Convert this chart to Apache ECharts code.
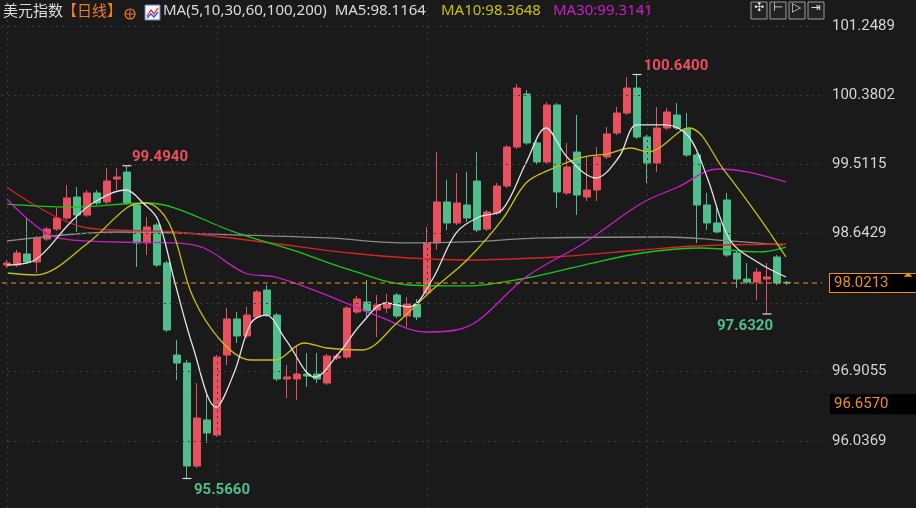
<!DOCTYPE html>
<html><head><meta charset="utf-8">
<script src="https://cdn.jsdelivr.net/npm/echarts@6/dist/echarts.min.js"></script>
<style>html,body{margin:0;padding:0;background:#1a1a1a}#c{width:916px;height:508px}</style>
</head><body><div id="c"></div>
<script>
// [open, close, low, high]
const candles = [
[98.247,98.272,98.210,98.310],[98.247,98.398,98.222,98.436],[98.386,98.285,98.260,98.850],[98.285,98.586,98.147,98.611],
[98.574,98.699,98.549,98.724],[98.699,98.838,98.674,98.963],[98.838,99.089,98.812,99.252],[99.101,98.875,98.662,99.227],
[98.875,99.152,98.850,99.189],[99.152,99.026,99.001,99.189],[99.039,99.302,99.013,99.466],[99.327,99.352,99.189,99.466],
[99.415,99.026,99.001,99.494],[99.001,98.524,98.222,99.026],[98.524,98.724,98.373,98.850],[98.750,98.247,98.222,98.775],
[98.272,97.431,97.406,98.297],[97.117,97.016,96.803,97.305],[97.016,95.723,95.566,97.054],[95.723,96.326,95.698,96.765],
[96.301,96.138,96.012,96.615],[96.112,97.092,96.087,97.117],[97.117,97.569,96.991,97.707],[97.569,97.356,97.268,97.657],
[97.356,97.619,97.331,97.720],[97.594,97.908,97.569,97.933],[97.933,97.619,97.594,97.996],[97.619,96.816,96.790,97.644],
[96.816,96.841,96.577,96.991],[96.816,96.878,96.552,97.243],[96.878,96.853,96.715,97.142],[96.878,96.816,96.765,97.142],
[96.765,97.104,96.740,97.129],[97.079,97.104,97.054,97.129],[97.092,97.707,97.067,97.732],[97.657,97.820,97.632,97.858],
[97.782,97.669,97.581,98.059],[97.682,97.745,97.343,97.870],[97.707,97.757,97.644,97.883],[97.870,97.607,97.581,97.895],
[97.607,97.757,97.469,97.845],[97.757,97.594,97.556,97.820],[97.896,98.524,97.870,98.724],[98.524,99.039,98.436,99.667],
[99.039,98.775,98.687,99.315],[98.775,99.026,98.750,99.403],[99.001,98.838,98.787,99.415],[99.302,98.687,98.662,99.667],
[98.699,98.913,98.674,98.938],[98.900,99.240,98.875,99.277],[99.240,99.729,99.214,99.754],[99.729,100.470,99.704,100.520],
[100.395,99.780,99.755,100.445],[99.780,99.541,99.503,99.805],[99.541,100.257,99.516,100.294],[100.257,99.164,98.963,100.282],
[99.152,99.478,99.126,99.779],[99.666,99.126,98.875,100.131],[99.101,99.189,99.051,99.604],[99.189,99.604,99.051,99.729],
[99.604,99.893,99.579,99.980],[99.905,100.156,99.880,100.232],[100.156,100.470,100.131,100.608],[100.470,99.855,99.830,100.640],
[99.855,99.528,99.277,99.880],[99.528,99.968,99.415,100.232],[99.968,100.169,99.943,100.219],[100.131,99.968,99.943,100.282],
[99.955,99.629,99.604,100.156],[99.629,99.001,98.524,99.654],[99.001,98.775,98.687,99.152],[98.775,98.662,98.637,98.976],
[99.064,98.373,98.348,99.152],[98.398,98.071,97.958,98.423],[98.071,98.034,98.009,98.272],[98.034,98.159,97.808,98.210],
[98.071,98.096,97.632,98.272],[98.348,98.021,97.996,98.373],[98.030,98.0213,97.996,98.047]
];
const cats = candles.map((_, i) => 'D' + (i + 1)).concat(['', '', '']);
const ma5X = [0,2.8,6.3,8.6,11.9,13.6,15.1,16.8,18.6,20.9,22.7,24.4,25.9,27.9,30.8,33.2,35.5,37.9,40.2,42.5,44.9,47.2,49.5,51.9,53.9,56,58.9,61.2,63,65.9,68.2,70,72.3,75.2,77.9];
const ma5Y = [98.247,98.310,98.775,99.026,99.189,99.026,98.813,98.021,97.217,96.464,96.891,97.519,97.619,97.305,96.840,97.142,97.519,97.770,97.720,98.059,98.649,98.850,98.938,99.528,99.968,99.604,99.340,99.604,100.006,100.006,99.855,99.353,98.561,98.272,98.097];
const ma10X = [0,2.8,8.1,12.1,13.9,16.2,18.6,21.5,24.4,26.8,29.7,32,35.5,39,42.5,46,49.5,51.9,54.2,57.7,60,62.4,64.1,68.2,71.7,75.2,77.9];
const ma10Y = [98.147,98.122,98.524,98.976,99.026,98.775,97.845,97.280,97.054,97.054,97.268,97.205,97.180,97.519,97.933,98.310,98.813,99.277,99.440,99.604,99.641,99.717,99.667,99.968,99.440,98.850,98.348];
const ma30X = [0,5.1,11,16.8,19.7,23.8,26.8,31.4,37.3,41.9,44.9,47.2,51.9,57.7,63.5,67.1,71.1,74.1,77.9];
const ma30Y = [99.076,98.587,98.536,98.524,98.461,98.147,98.097,97.896,97.595,97.406,97.431,97.557,98.097,98.524,99.026,99.227,99.453,99.415,99.290];
const ma60X = [0,6.3,13.9,16.8,22.7,28.5,34.3,40.2,46,51.9,57.7,63.5,69.4,75.2,77.9];
const ma60Y = [99.013,98.975,99.026,98.963,98.662,98.436,98.185,97.996,97.984,98.084,98.247,98.398,98.461,98.411,98.473];
const ma100X = [0,8.1,16.8,25.6,34.3,40.2,46,54.8,63.5,68.8,77.9];
const ma100Y = [99.225,98.712,98.662,98.536,98.398,98.335,98.310,98.348,98.436,98.486,98.511];
const ma200X = [0,11,23.3,32,40.2,46,53.6,65.9,71.1,77.6];
const ma200Y = [98.549,98.662,98.624,98.587,98.524,98.537,98.587,98.599,98.561,98.498];
const extremes = [
  {i:12, v:99.494, t:'99.4940', c:'#e8505e', pos:'top', dx:33},
  {i:18, v:95.566, t:'95.5660', c:'#4fbd8c', pos:'bottom', dx:35},
  {i:63, v:100.640, t:'100.6400', c:'#e8505e', pos:'top', dx:39},
  {i:76, v:97.632, t:'97.6320', c:'#4fbd8c', pos:'bottom', dx:-22}
];
const yTicks = ['96.0369','96.9055','97.7742','98.6429','99.5115','100.3802','101.2489'];
const last = 98.0213, mark2 = '96.6570', mark2At = 96.50;
const yMin = 95.1955, yMax = 101.5755;
const vGrid = [0, 21, 42, 64];

const zip = (xs, ys) => xs.map((x, k) => [x, ys[k]]);
const line = (name, xs, ys, color) => ({type:'line', name, xAxisIndex:1, data:zip(xs, ys), smooth:0.35, symbol:'none',
  lineStyle:{color, width:1.3}, z:3, silent:true});
const F = 'Roboto, sans-serif';
const grey = {color:'#3a3a3a', type:[2,4], width:1};
const ORANGE = '#f0901e';
const xEnd = cats.length - 0.5;

const chart = echarts.init(document.getElementById('c'));
chart.setOption({
  backgroundColor:'#1a1a1a',
  animation:false,
  grid:{left:2, top:0, width:820, height:508},
  xAxis:[
    {type:'category', data:cats, show:false, boundaryGap:true},
    {type:'value', min:-0.5, max:xEnd, show:false}
  ],
  yAxis:{type:'value', position:'right', min:yMin, max:yMax, show:false, splitLine:{show:false}},
  series:[
    {type:'line', xAxisIndex:1, data:[[0, null]], symbol:'none', z:1,
     markLine:{symbol:'none', silent:true, lineStyle:grey,
       data:yTicks.map(t => ({yAxis:+t, label:{show:t !== '97.7742', position:'end', formatter:t, color:'#d4d4d4', fontSize:15, fontFamily:F, distance:10}}))
         .concat(vGrid.map(v => ({xAxis:v, label:{show:false}})))}},
    {type:'candlestick', data:candles, barWidth:7,
     itemStyle:{color:'#e8505e', color0:'#4fbd8c', borderColor:'#e8505e', borderColor0:'#4fbd8c', borderWidth:1},
     z:2,
     markPoint:{symbol:'rect', symbolSize:[9,1.2], itemStyle:{color:'#dddddd'},
       data:extremes.map(e => ({coord:[e.i, e.v], label:{show:true, formatter:e.t, color:e.c, fontSize:15, fontWeight:'bold',
         fontFamily:F, position:e.pos, distance:e.pos==='top'?0:4, offset:[e.dx, 0]}}))}},
    {type:'line', xAxisIndex:1, data:[[-0.5, last], [xEnd, last]], symbol:'none', z:4, silent:true,
     lineStyle:{color:ORANGE, type:[5,4], width:1.2},
     markLine:{symbol:'none', silent:true, lineStyle:{color:'rgba(0,0,0,0)', width:0},
       data:[
        {yAxis:last,
          label:{show:true, position:'end', formatter:last.toFixed(4), color:ORANGE, fontSize:15, fontFamily:F,
            backgroundColor:'#000', borderColor:ORANGE, borderWidth:1, padding:[2,28,1,4], distance:8}},
        {yAxis:mark2At,
          label:{show:true, position:'end', formatter:mark2, color:ORANGE, fontSize:15, fontFamily:F,
            backgroundColor:'#000', padding:[3,28,2,4], distance:8}}
       ]}},
    line('MA200', ma200X, ma200Y, '#8a8a8a'),
    line('MA100', ma100X, ma100Y, '#d42424'),
    line('MA60', ma60X, ma60Y, '#18c818'),
    line('MA30', ma30X, ma30Y, '#c81ec8'),
    line('MA10', ma10X, ma10Y, '#c8c010'),
    line('MA5', ma5X, ma5Y, '#e4e4e4')
  ],
  graphic:[
    {type:'text', left:3, top:3, style:{text:'美元指数', fill:'#dcdcdc', font:'15px "Noto Sans CJK SC"'}},
    {type:'text', left:62, top:3, style:{text:'【日线】', fill:'#f07c1e', font:'15px "Noto Sans CJK SC"'}},
    {type:'circle', shape:{cx:130, cy:14, r:5}, style:{fill:'none', stroke:'#f07c1e', lineWidth:1.2}},
    {type:'line', shape:{x1:125, y1:14, x2:135, y2:14}, style:{stroke:'#f07c1e', lineWidth:1}},
    {type:'line', shape:{x1:130, y1:9, x2:130, y2:19}, style:{stroke:'#f07c1e', lineWidth:1}},
    {type:'rect', shape:{x:145, y:5, width:15, height:15}, style:{fill:'#f4f4f4', stroke:'#6a7ad0', lineWidth:1}},
    {type:'polyline', shape:{points:[[147,16],[151,10],[154,14],[158,8]]}, style:{stroke:'#e03030', fill:'none', lineWidth:1.3}},
    {type:'polyline', shape:{points:[[147,18],[151,14],[154,17],[158,12]]}, style:{stroke:'#3050e0', fill:'none', lineWidth:1.3}},
    {type:'text', left:163, top:3, style:{text:'MA(5,10,30,60,100,200)  MA5:98.1164', fill:'#dcdcdc', font:'15px "Noto Sans", sans-serif'}},
    {type:'text', left:441, top:3, style:{text:'MA10:98.3648', fill:'#c8c010', font:'15px "Noto Sans", sans-serif'}},
    {type:'text', left:553, top:3, style:{text:'MA30:99.3141', fill:'#c81ec8', font:'15px "Noto Sans", sans-serif'}},
    ...[0,1,2,3].map(k => ({type:'rect', shape:{x:751 + k*19, y:2, width:16, height:17}, style:{fill:'#222', stroke:'#9a9a9a', lineWidth:1}})),
    ...[0,1,2,3].map(k => ({type:'text', left:754 + k*19, top:2, style:{text:['✣','⊢','▷','⇥'][k], fill:'#dcdcdc', font:'12px "DejaVu Sans"'}})),
    {type:'text', left:903, top:270, z:100, style:{text:'⏶', fill:ORANGE, font:'12px "DejaVu Sans"'}}
  ]
});
</script></body></html>
